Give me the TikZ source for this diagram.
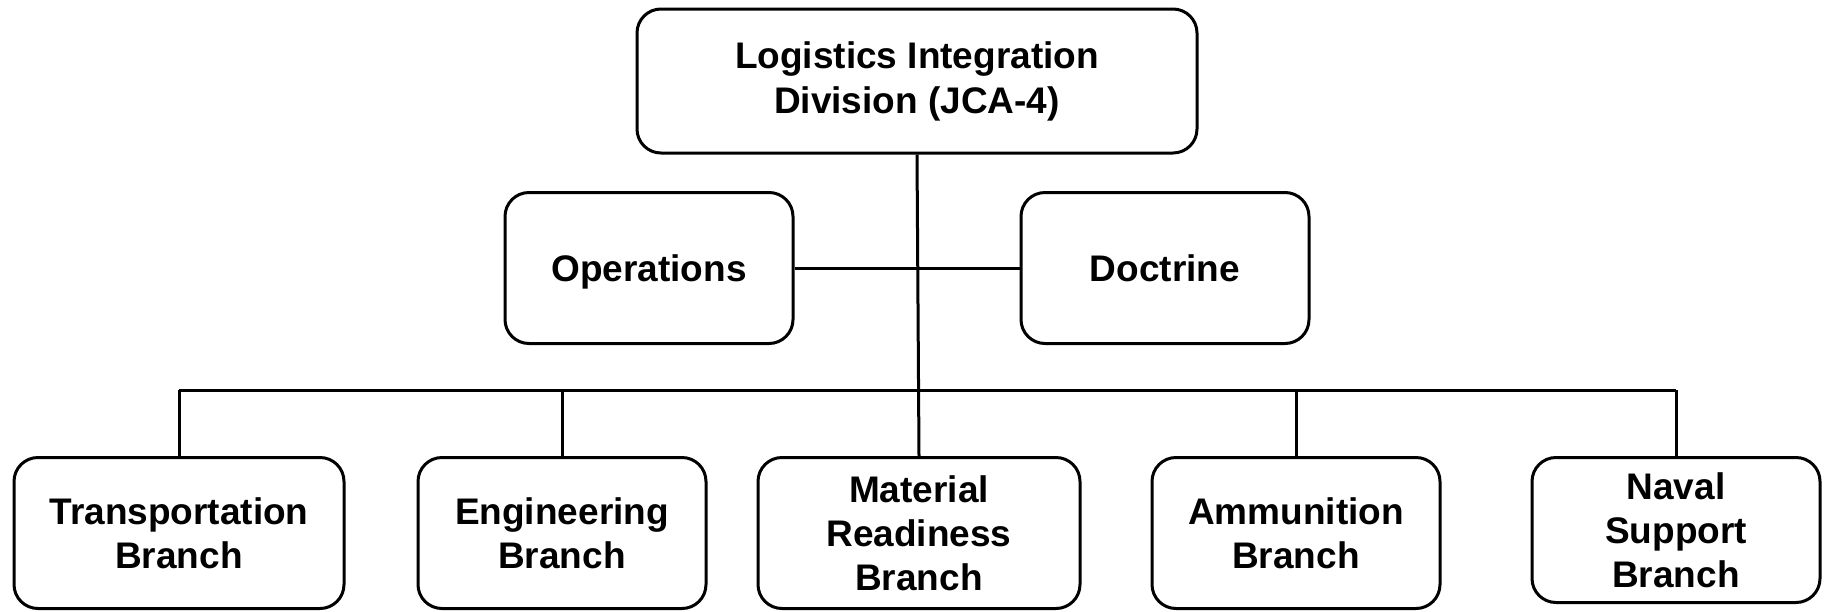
\documentclass[tikz,border=0pt]{standalone}
\usepackage{fontspec}
\setmainfont{Liberation Sans}
\begin{document}
\begin{tikzpicture}[x=1pt,y=-1pt,
  orgbox/.style={draw=black, line width=3pt, rounded corners=24pt, fill=white,
    align=center, inner sep=0pt, font=\fontsize{37}{44}\selectfont\bfseries},
  link/.style={draw=black, line width=3pt}]
\useasboundingbox (0,0) rectangle (1826,611);
\node[orgbox, minimum width=560pt, minimum height=144pt, font=\fontsize{37}{45}\selectfont\bfseries] (top) at (917,81) {Logistics Integration\\Division (JCA-4)};
\node[orgbox, minimum width=288pt, minimum height=151pt, text depth=0pt] (ops) at (649,268) {Operations};
\node[orgbox, minimum width=288pt, minimum height=151pt] (doc) at (1165,268) {Doctrine};
\node[orgbox, minimum width=330pt, minimum height=151pt] (tra) at (179,533) {Transportation\\Branch};
\node[orgbox, minimum width=288pt, minimum height=151pt] (eng) at (562,533) {Engineering\\Branch};
\node[orgbox, minimum width=322pt, minimum height=151pt] (mat) at (919,533) {Material\\Readiness\\Branch};
\node[orgbox, minimum width=288pt, minimum height=151pt] (amm) at (1296,533) {Ammunition\\Branch};
\node[orgbox, minimum width=288pt, minimum height=145pt] (nav) at (1676,530) {Naval\\Support\\Branch};
\coordinate (hl) at (179,390);
\coordinate (hr) at (1676,390);
\draw[link] (top.south) -- (mat.north);
\draw[link] (ops.east) -- (doc.west);
\draw[link] (hl) -- (hr);
\draw[link] (hl) -- (tra.north);
\draw[link] (eng.north |- hl) -- (eng.north);
\draw[link] (amm.north |- hl) -- (amm.north);
\draw[link] (hr) -- (nav.north);
\end{tikzpicture}
\end{document}
